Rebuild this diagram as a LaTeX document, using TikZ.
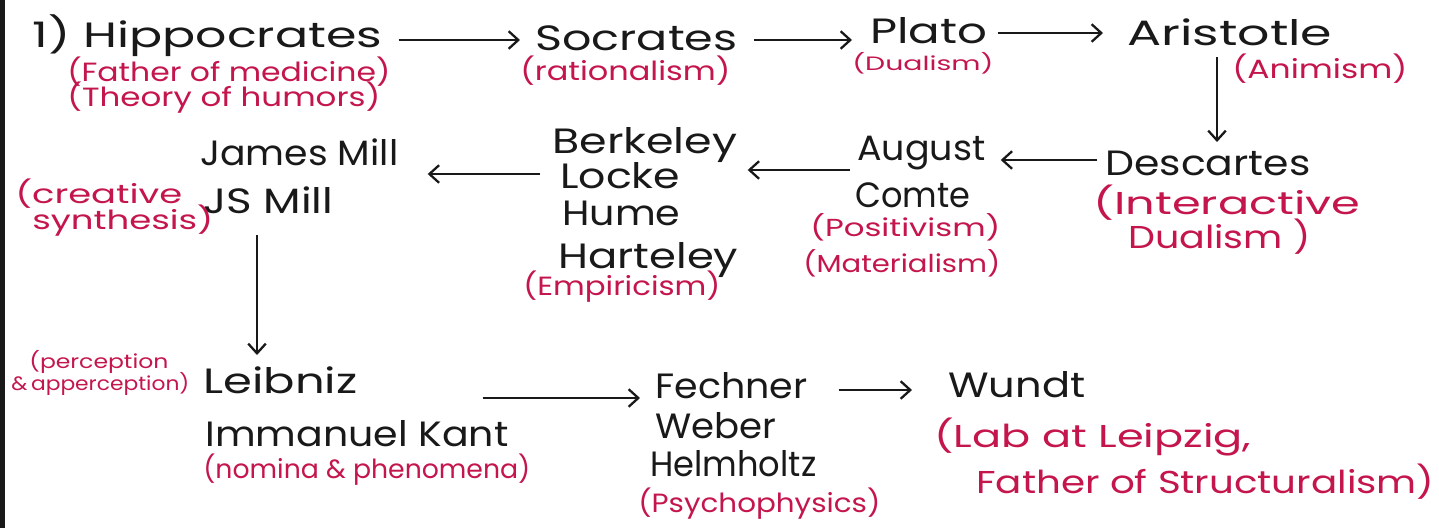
\documentclass[tikz,border=0pt]{standalone}
\usepackage{graphicx}
\usepackage{fontspec}
\setmainfont{Poppins}
\usetikzlibrary{arrows.meta,calc}
\definecolor{ink}{RGB}{25,25,25}
\definecolor{pen}{RGB}{196,22,76}
\newlength\pxu \setlength\pxu{0.02cm}
\newcommand\fw[2]{\resizebox{#1\pxu}{\height}{#2}}
\tikzset{
  big/.style={anchor=base west,inner sep=0pt,text=ink,font=\fontsize{20}{24}\selectfont},
  note/.style={anchor=base west,inner sep=0pt,text=pen,font=\fontsize{15}{18}\selectfont},
  notemid/.style={anchor=base west,inner sep=0pt,text=pen,font=\fontsize{14}{16}\selectfont},
  notebig/.style={anchor=base west,inner sep=0pt,text=pen,font=\fontsize{18}{21}\selectfont},
  notesmall/.style={anchor=base west,inner sep=0pt,text=pen,font=\fontsize{11}{13}\selectfont},
  arr/.style={draw=ink,line width=1.3pt,-{Straight Barb[length=5.5pt,width=10pt,line width=1.3pt]}}
}
\begin{document}
\begin{tikzpicture}[x=0.02cm,y=-0.02cm]
\useasboundingbox[fill=white] (0,0) rectangle (1439,528);
\fill[ink] (0,0) rectangle (5,528);
% row 1
\node[big] (hip) at (32,47) {\fw{350}{1)~Hippocrates}};
\node[note] (hipa) at (67,81) {\fw{323}{(Father of medicine)}};
\node[note] (hipb) at (67,106) {\fw{313}{(Theory of humors)}};
\node[big] (soc) at (535,50) {\fw{202}{Socrates}};
\node[note] (soca) at (520,80) {\fw{210}{(rationalism)}};
\node[big] (pla) at (870,43) {\fw{117}{Plato}};
\node[notesmall] (plaa) at (852,70) {\fw{141}{(Dualism)}};
\node[big] (ari) at (1127,45) {\fw{205}{Aristotle}};
\node[note] (aria) at (1232,78) {\fw{175}{(Animism)}};
% row 2
\node[big] (des) at (1105,175) {\fw{205}{Descartes}};
\node[notebig] (desa) at (1093,214) {\fw{267}{(Interactive}};
\node[notebig] (desb) at (1128,248) {\fw{182}{Dualism )}};
\node[big] (aug) at (857,160) {\fw{128}{August}};
\node[big] (com) at (855,207) {\fw{115}{Comte}};
\node[notemid] (coma) at (810,236) {\fw{190}{(Positivism)}};
\node[notemid] (comb) at (803,272) {\fw{197}{(Materialism)}};
\node[big] (ber) at (552,153) {\fw{185}{Berkeley}};
\node[big] (loc) at (560,188) {\fw{120}{Locke}};
\node[big] (hum) at (562,225) {\fw{118}{Hume}};
\node[big] (har) at (558,268) {\fw{180}{Harteley}};
\node[note] (emp) at (523,295) {\fw{197}{(Empiricism)}};
\node[big] (jam) at (200,165) {\fw{198}{James Mill}};
\node[big] (jsm) at (203,213) {\fw{130}{JS Mill}};
\node[note] (cra) at (15,203) {\fw{167}{(creative}};
\node[note] (crb) at (32,229) {\fw{181}{synthesis)}};
% row 3
\node[notesmall] (pera) at (29,368) {\fw{139}{(perception}};
\node[notesmall] (perb) at (11,390) {\fw{178}{\&\,apperception)}};
\node[big] (lei) at (203,393) {\fw{154}{Leibniz}};
\node[big] (kan) at (205,446) {\fw{303}{Immanuel Kant}};
\node[note] (kana) at (203,478) {\fw{327}{(nomina \& phenomena)}};
\node[big] (fec) at (655,398) {\fw{152}{Fechner}};
\node[big] (web) at (655,438) {\fw{121}{Weber}};
\node[big] (hel) at (650,476) {\fw{166}{Helmholtz}};
\node[note] (psy) at (638,512) {\fw{242}{(Psychophysics)}};
\node[big] (wun) at (948,397) {\fw{137}{Wundt}};
\node[notebig] (wuna) at (934,447) {\fw{317}{(Lab at Leipzig,}};
\node[notebig] (wunb) at (976,493) {\fw{458}{Father of Structuralism)}};
% connectors
\draw[arr] ($(hip.base east)+(16,-7)$) -- ($(soc.base west)+(-15,-10)$);
\draw[arr] ($(soc.base east)+(16,-10)$) -- ($(pla.base west)+(-18,-3)$);
\draw[arr] ($(pla.base east)+(10,-10)$) -- ($(ari.base west)+(-24,-12)$);
\draw[arr] ($(ari.base west)+(90,12)$) -- ($(des.base west)+(112,-33)$);
\draw[arr] ($(des.base west)+(-8,-15)$) -- ($(aug.base east)+(15,0)$);
\draw[arr] ($(aug.base west)+(-7,10)$) -- ($(ber.base east)+(10,17)$);
\draw[arr] ($(loc.base west)+(-20,-14)$) -- ($(jam.base east)+(29,9)$);
\draw[arr] ($(jsm.base west)+(54,22)$) -- ($(lei.base west)+(54,-38)$);
\draw[arr] ($(kan.base east)+(-26,-48)$) -- ($(fec.base west)+(-15,0)$);
\draw[arr] ($(fec.base east)+(31,-8)$) -- ($(wun.base west)+(-36,-7)$);
\end{tikzpicture}
\end{document}
